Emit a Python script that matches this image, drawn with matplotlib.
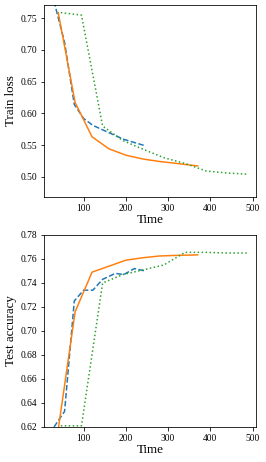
import matplotlib.pyplot as plt

# data
blue_time = [30, 55, 78, 100, 122, 145, 175, 195, 220, 245]
blue_loss = [0.777, 0.712, 0.614, 0.592, 0.581, 0.574, 0.565, 0.559, 0.554, 0.549]
blue_acc = [0.620, 0.633, 0.725, 0.734, 0.734, 0.743, 0.748, 0.747, 0.752, 0.750]

orange_time = [40, 80, 120, 160, 200, 240, 280, 320, 370]
orange_loss = [0.759, 0.617, 0.563, 0.544, 0.534, 0.528, 0.524, 0.521, 0.517]
orange_acc = [0.618, 0.716, 0.749, 0.754, 0.759, 0.761, 0.7625, 0.763, 0.7634]

green_time = [46, 95, 145, 193, 242, 290, 340, 390, 438, 486]
green_loss = [0.759, 0.755, 0.580, 0.557, 0.543, 0.530, 0.521, 0.509, 0.506, 0.504]
green_acc = [0.621, 0.621, 0.740, 0.747, 0.751, 0.755, 0.7655, 0.7655, 0.765, 0.765]

plt.rcParams['font.family'] = ['Liberation Serif', 'DejaVu Serif']
plt.rcParams['xtick.labelsize'] = 9.5
plt.rcParams['ytick.labelsize'] = 9.5

DPI = 72
fig = plt.figure(figsize=(266 / DPI, 462 / DPI), dpi=DPI)
ax1 = fig.add_axes([0.1665, 0.5736, 0.796, 0.4156])
ax2 = fig.add_axes([0.1665, 0.0758, 0.796, 0.4156])

for ax, b, o, g in [(ax1, blue_loss, orange_loss, green_loss),
                    (ax2, blue_acc, orange_acc, green_acc)]:
    ax.plot(blue_time, b, color='tab:blue', linestyle='--')
    ax.plot(orange_time, o, color='tab:orange', linestyle='-')
    ax.plot(green_time, g, color='tab:green', linestyle=':')
    ax.set_xlim(7, 508)
    ax.set_xticks([100, 200, 300, 400, 500])
    ax.set_xlabel("Time", fontsize=13, labelpad=1)

ax1.set_ylim(0.468, 0.771)
ax1.set_yticks([0.50, 0.55, 0.60, 0.65, 0.70, 0.75])
ax1.set_ylabel("Train loss", fontsize=13)

ax2.set_ylim(0.62, 0.78)
ax2.set_yticks([0.62, 0.64, 0.66, 0.68, 0.70, 0.72, 0.74, 0.76, 0.78])
ax2.set_ylabel("Test accuracy", fontsize=13)

plt.savefig("out.png", dpi=DPI)
